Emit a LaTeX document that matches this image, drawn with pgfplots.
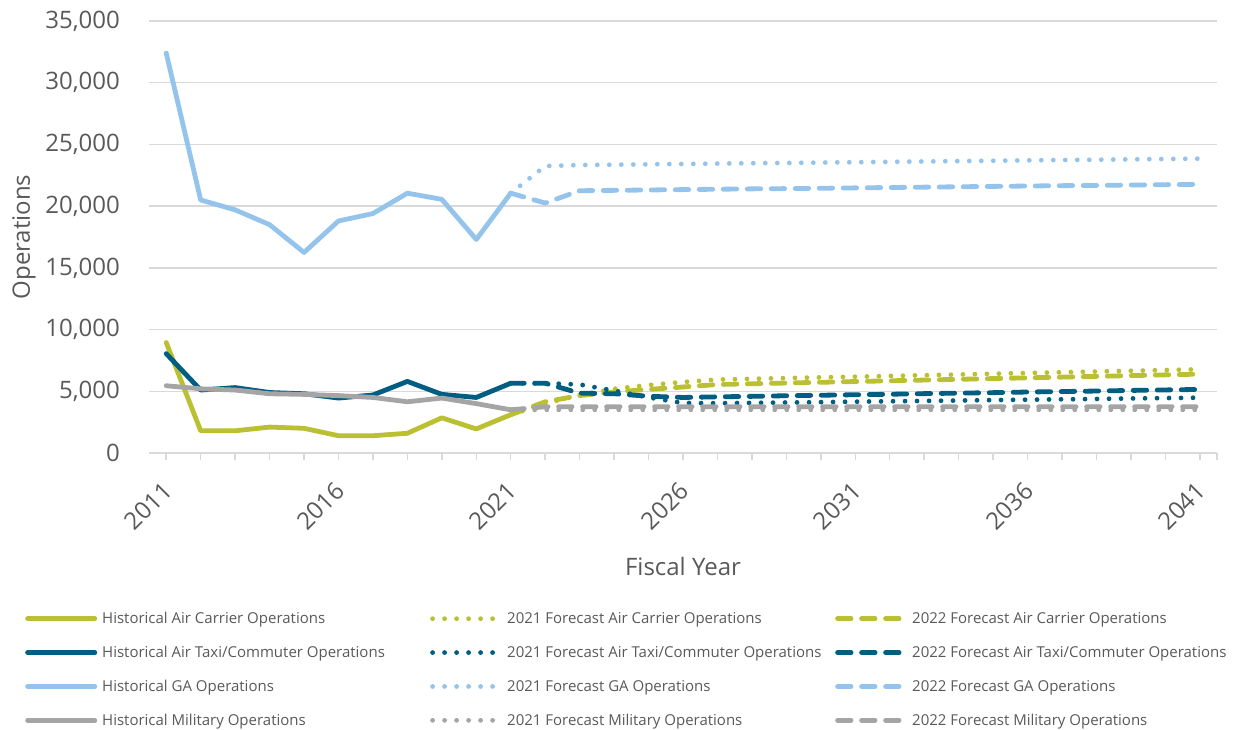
\documentclass[border=0pt]{standalone}
\usepackage{fontspec}
\setmainfont{Open Sans}
\usepackage{pgfplots}
\pgfplotsset{compat=1.18}
\definecolor{cAC}{RGB}{187,191,50}
\definecolor{cTX}{RGB}{0,94,130}
\definecolor{cGA}{RGB}{148,196,236}
\definecolor{cMI}{RGB}{165,165,165}
\definecolor{txt}{RGB}{89,89,89}
\definecolor{grd}{RGB}{217,217,217}
\tikzset{
  histline/.style={solid, line width=4.8pt, line join=round, line cap=round},
  fc21/.style={line width=4.8pt, line cap=round, dash pattern=on 0pt off 12pt},
  fc22/.style={line width=4.8pt, line cap=round, line join=round, dash pattern=on 13.5pt off 10.5pt},
}
\begin{document}
\begin{tikzpicture}
\useasboundingbox (0,0) rectangle (1235pt,-730pt);
\begin{axis}[
  at={(149pt,-453pt)}, anchor=south west,
  scale only axis, width=1068pt, height=432pt,
  xmin=2010.5, xmax=2041.5, ymin=0, ymax=35000,
  axis x line*=bottom, axis y line*=left,
  x axis line style={grd, line width=1.5pt, -},
  y axis line style={draw=none},
  ytick={0,5000,...,35000},
  ymajorgrids, grid style={grd, line width=1.5pt},
  scaled y ticks=false,
  xtick={2011,2016,2021,2026,2031,2036,2041},
  xticklabels={2011,2016,2021,2026,2031,2036,2041},
  minor xtick={2012,2013,2014,2015,2017,2018,2019,2020,2022,2023,2024,2025,2027,2028,2029,2030,2032,2033,2034,2035,2037,2038,2039,2040,2041.5},
  tick align=outside,
  major tick length=7pt, minor tick length=7pt,
  xtick style={grd, line width=1.5pt},
  minor x tick style={grd, line width=1.5pt},
  ytick style={draw=none},
  /pgf/number format/.cd, 1000 sep={,}, assume math mode=true, /pgfplots/.cd,
  tick label style={font=\fontsize{24}{28}\selectfont, text=txt},
  yticklabel style={anchor=east, inner sep=0pt, xshift=-22pt},
  xticklabel style={xshift=3pt, yshift=-25pt, rotate=45, anchor=east, inner sep=2pt},
  xlabel={Fiscal Year},
  xlabel style={at={(axis description cs:0.5,-0.2616)}, anchor=center, font=\fontsize{24}{28}\selectfont, text=txt},
  ylabel={Operations},
  ylabel style={at={(axis description cs:-0.1171,0.5)}, anchor=center, font=\fontsize{24}{28}\selectfont, text=txt},
  legend columns=3,
  legend style={at={(axis description cs:-0.1161,-0.3681)}, anchor=north west, draw=none, fill=none,
    font=\fontsize{15}{18}\selectfont, text=txt, inner sep=0pt, column sep=0pt, row sep=21pt,
    nodes={inner sep=0pt}},
  legend cell align=left,
  legend image code/.code={\draw[#1] (2.4pt,0pt) -- (69.6pt,0pt);},
]
% Air carrier
\addplot[cAC, histline] coordinates {(2011,8950) (2012,1800) (2013,1800) (2014,2100) (2015,2000) (2016,1400) (2017,1400) (2018,1600) (2019,2850) (2020,1950) (2021,3100)};
\addlegendentry{\makebox[333pt][l]{\hspace{5pt}Historical Air Carrier Operations}}
\addplot[cAC, fc21] coordinates {(2021,3100) (2022,4000) (2023,4700) (2024,5200) (2025,5500) (2026,5750) (2027,5950) (2028,6010) (2029,6070) (2030,6130) (2031,6180) (2032,6240) (2033,6300) (2034,6360) (2035,6420) (2036,6480) (2037,6540) (2038,6600) (2039,6660) (2040,6720) (2041,6780)};
\addlegendentry{\makebox[333pt][l]{\hspace{5pt}2021 Forecast Air Carrier Operations}}
\addplot[cAC, fc22] coordinates {(2021,3100) (2022,4150) (2023,4650) (2024,4950) (2025,5150) (2026,5350) (2027,5550) (2028,5610) (2029,5670) (2030,5730) (2031,5790) (2032,5850) (2033,5910) (2034,5970) (2035,6030) (2036,6090) (2037,6150) (2038,6210) (2039,6270) (2040,6330) (2041,6390)};
\addlegendentry{\hspace{5pt}2022 Forecast Air Carrier Operations}
% Air taxi
\addplot[cTX, histline] coordinates {(2011,8050) (2012,5100) (2013,5300) (2014,4900) (2015,4800) (2016,4450) (2017,4700) (2018,5800) (2019,4750) (2020,4500) (2021,5650)};
\addlegendentry{\makebox[333pt][l]{\hspace{5pt}Historical Air Taxi/Commuter Operations}}
\addplot[cTX, fc21] coordinates {(2021,5650) (2022,5650) (2023,5550) (2024,5050) (2025,4500) (2026,4050) (2027,4030) (2028,4060) (2029,4090) (2030,4120) (2031,4160) (2032,4190) (2033,4220) (2034,4250) (2035,4290) (2036,4320) (2037,4350) (2038,4380) (2039,4420) (2040,4450) (2041,4480)};
\addlegendentry{\makebox[333pt][l]{\hspace{5pt}2021 Forecast Air Taxi/Commuter Operations}}
\addplot[cTX, fc22] coordinates {(2021,5650) (2022,5650) (2023,4850) (2024,4800) (2025,4600) (2026,4500) (2027,4550) (2028,4590) (2029,4640) (2030,4680) (2031,4720) (2032,4760) (2033,4810) (2034,4850) (2035,4890) (2036,4940) (2037,4980) (2038,5020) (2039,5070) (2040,5110) (2041,5150)};
\addlegendentry{\hspace{5pt}2022 Forecast Air Taxi/Commuter Operations}
% GA
\addplot[cGA, histline] coordinates {(2011,32400) (2012,20500) (2013,19700) (2014,18500) (2015,16250) (2016,18800) (2017,19400) (2018,21050) (2019,20550) (2020,17300) (2021,21050)};
\addlegendentry{\makebox[333pt][l]{\hspace{5pt}Historical GA Operations}}
\addplot[cGA, fc21] coordinates {(2021,21050) (2022,23250) (2023,23330) (2024,23360) (2025,23390) (2026,23420) (2027,23450) (2028,23480) (2029,23500) (2030,23530) (2031,23560) (2032,23590) (2033,23620) (2034,23650) (2035,23680) (2036,23710) (2037,23740) (2038,23760) (2039,23790) (2040,23820) (2041,23850)};
\addlegendentry{\makebox[333pt][l]{\hspace{5pt}2021 Forecast GA Operations}}
\addplot[cGA, fc22] coordinates {(2021,21050) (2022,20250) (2023,21250) (2024,21280) (2025,21310) (2026,21340) (2027,21370) (2028,21400) (2029,21420) (2030,21450) (2031,21480) (2032,21510) (2033,21540) (2034,21570) (2035,21600) (2036,21630) (2037,21660) (2038,21680) (2039,21710) (2040,21740) (2041,21770)};
\addlegendentry{\hspace{5pt}2022 Forecast GA Operations}
% Military
\addplot[cMI, histline] coordinates {(2011,5450) (2012,5200) (2013,5100) (2014,4800) (2015,4750) (2016,4650) (2017,4500) (2018,4150) (2019,4450) (2020,4000) (2021,3500)};
\addlegendentry{\makebox[333pt][l]{\hspace{5pt}Historical Military Operations}}
\addplot[cMI, fc21] coordinates {(2021,3500) (2022,3500) (2023,3500) (2024,3500) (2025,3500) (2026,3500) (2027,3500) (2028,3500) (2029,3500) (2030,3500) (2031,3500) (2032,3500) (2033,3500) (2034,3500) (2035,3500) (2036,3500) (2037,3500) (2038,3500) (2039,3500) (2040,3500) (2041,3500)};
\addlegendentry{\makebox[333pt][l]{\hspace{5pt}2021 Forecast Military Operations}}
\addplot[cMI, fc22] coordinates {(2021,3500) (2022,3750) (2023,3750) (2024,3750) (2025,3750) (2026,3750) (2027,3750) (2028,3750) (2029,3750) (2030,3750) (2031,3750) (2032,3750) (2033,3750) (2034,3750) (2035,3750) (2036,3750) (2037,3750) (2038,3750) (2039,3750) (2040,3750) (2041,3750)};
\addlegendentry{\hspace{5pt}2022 Forecast Military Operations}
\end{axis}
\end{tikzpicture}
\end{document}
